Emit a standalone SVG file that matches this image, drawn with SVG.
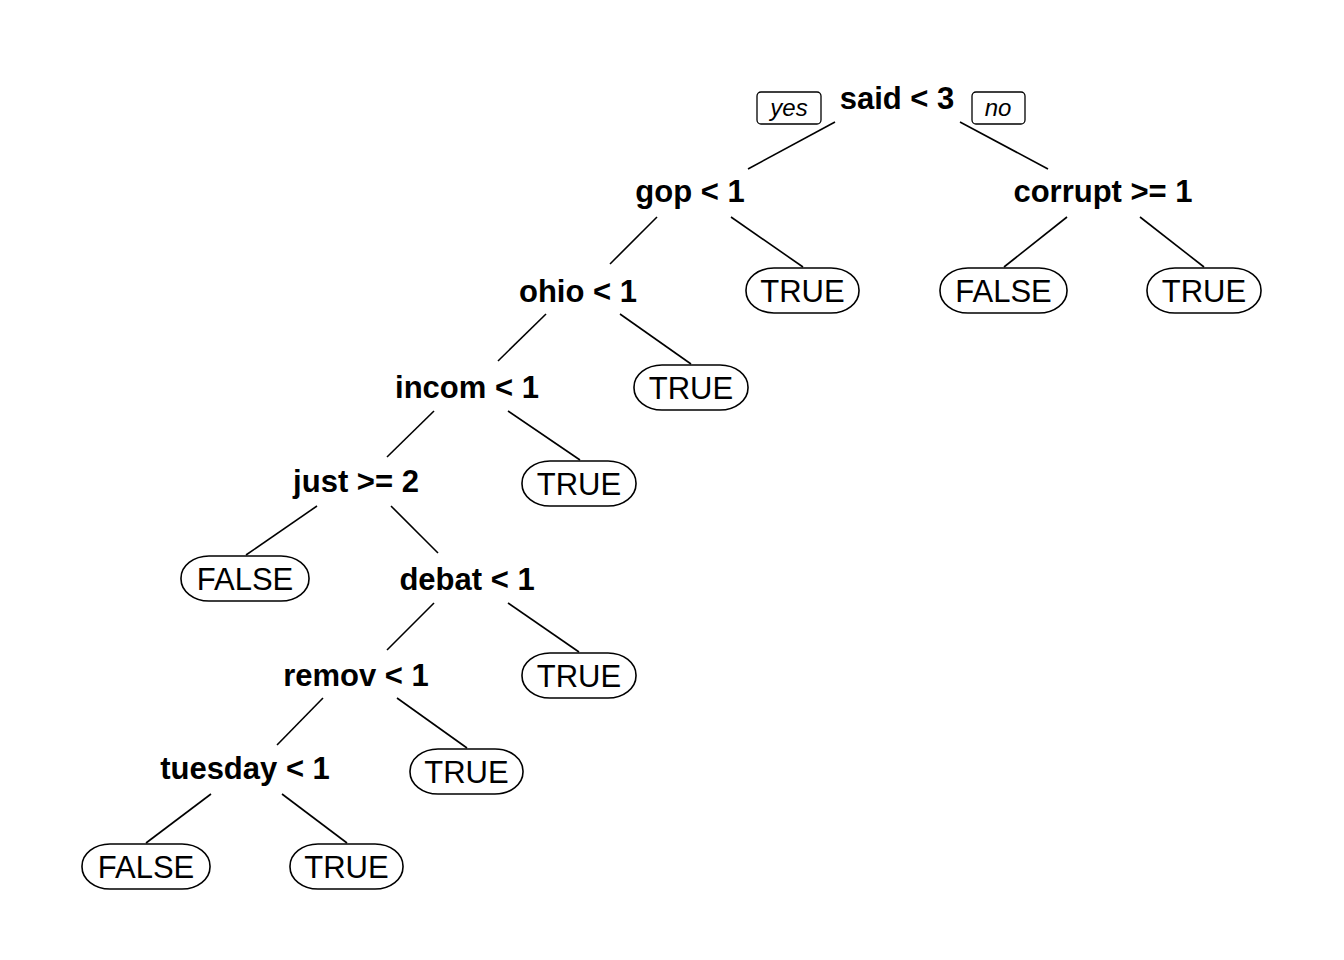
<svg xmlns="http://www.w3.org/2000/svg" width="1344" height="960" viewBox="0 0 1344 960">
<style>
.split{font-family:"Liberation Sans",Arial,sans-serif;font-weight:bold;font-size:31px;fill:#000;text-anchor:middle}
.leaf text{font-family:"Liberation Sans",Arial,sans-serif;font-size:31px;fill:#000;text-anchor:middle}
.leaf rect{fill:#fff;stroke:#000;stroke-width:1.6}
.lbl rect{fill:#fff;stroke:#000;stroke-width:1.3}
.lbl text{font-family:"Liberation Sans",Arial,sans-serif;font-style:italic;font-size:24px;fill:#000;text-anchor:middle}
#connectors line{stroke:#000;stroke-width:1.6}
</style>
<rect width="1344" height="960" fill="#fff"/>
<g id="connectors">
<line x1="835" y1="122" x2="748" y2="169"/>
<line x1="960" y1="122" x2="1048" y2="169"/>
<line x1="657" y1="217" x2="610" y2="264"/>
<line x1="731" y1="217" x2="803" y2="267"/>
<line x1="1067" y1="217" x2="1004" y2="267"/>
<line x1="1140" y1="217" x2="1204" y2="267"/>
<line x1="546" y1="314" x2="498" y2="361"/>
<line x1="620" y1="314" x2="691" y2="364"/>
<line x1="434" y1="411" x2="387" y2="457"/>
<line x1="508" y1="411" x2="580" y2="460"/>
<line x1="317" y1="506" x2="246" y2="555"/>
<line x1="391" y1="506" x2="438" y2="553"/>
<line x1="434" y1="603" x2="387" y2="650"/>
<line x1="508" y1="603" x2="579" y2="652"/>
<line x1="323" y1="698" x2="277" y2="745"/>
<line x1="397" y1="698" x2="467" y2="748"/>
<line x1="211" y1="794" x2="146" y2="843"/>
<line x1="282" y1="794" x2="347" y2="843"/>
</g>
<g id="yes-label" class="lbl"><rect x="757" y="92" width="64" height="32" rx="4"/><text x="789" y="116">yes</text></g>
<g id="no-label" class="lbl"><rect x="972" y="92" width="53" height="32" rx="4"/><text x="998" y="116">no</text></g>
<g id="n-said"><text class="split" x="897" y="109">said &lt; 3</text></g>
<g id="n-gop"><text class="split" x="690" y="202">gop &lt; 1</text></g>
<g id="n-corrupt"><text class="split" x="1103" y="202">corrupt &gt;= 1</text></g>
<g id="n-ohio"><text class="split" x="578" y="302">ohio &lt; 1</text></g>
<g id="n-incom"><text class="split" x="467" y="398">incom &lt; 1</text></g>
<g id="n-just"><text class="split" x="356" y="492">just &gt;= 2</text></g>
<g id="n-debat"><text class="split" x="467" y="590">debat &lt; 1</text></g>
<g id="n-remov"><text class="split" x="356" y="686">remov &lt; 1</text></g>
<g id="n-tuesday"><text class="split" x="245" y="779">tuesday &lt; 1</text></g>
<g id="l-gop-true" class="leaf"><rect x="746" y="268" width="113" height="45" rx="28" ry="22"/><text x="802.5" y="302">TRUE</text></g>
<g id="l-corrupt-false" class="leaf"><rect x="940" y="268" width="127" height="45" rx="28" ry="22"/><text x="1003.5" y="302">FALSE</text></g>
<g id="l-corrupt-true" class="leaf"><rect x="1147" y="268" width="114" height="45" rx="28" ry="22"/><text x="1204" y="302">TRUE</text></g>
<g id="l-ohio-true" class="leaf"><rect x="634" y="365" width="114" height="45" rx="28" ry="22"/><text x="691" y="399">TRUE</text></g>
<g id="l-incom-true" class="leaf"><rect x="522" y="461" width="114" height="45" rx="28" ry="22"/><text x="579" y="495">TRUE</text></g>
<g id="l-just-false" class="leaf"><rect x="181" y="556" width="128" height="45" rx="28" ry="22"/><text x="245" y="590">FALSE</text></g>
<g id="l-debat-true" class="leaf"><rect x="522" y="653" width="114" height="45" rx="28" ry="22"/><text x="579" y="687">TRUE</text></g>
<g id="l-remov-true" class="leaf"><rect x="410" y="749" width="113" height="45" rx="28" ry="22"/><text x="466.5" y="783">TRUE</text></g>
<g id="l-tuesday-false" class="leaf"><rect x="82" y="844" width="128" height="45" rx="28" ry="22"/><text x="146" y="878">FALSE</text></g>
<g id="l-tuesday-true" class="leaf"><rect x="290" y="844" width="113" height="45" rx="28" ry="22"/><text x="346.5" y="878">TRUE</text></g>
</svg>
